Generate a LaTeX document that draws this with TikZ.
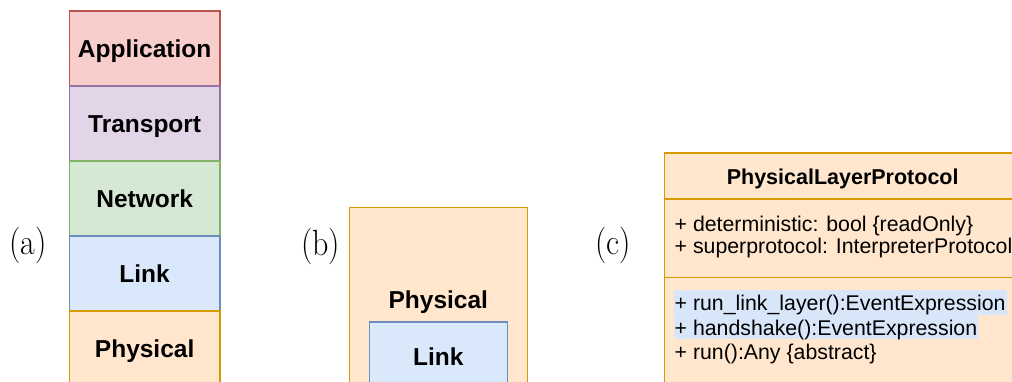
\documentclass[tikz,border=0pt]{standalone}
\usepackage{fontspec}
\newfontfamily\arialfont{Liberation Sans}
\definecolor{appfill}{HTML}{F8CECC}\definecolor{appdraw}{HTML}{B85450}
\definecolor{trafill}{HTML}{E1D5E7}\definecolor{tradraw}{HTML}{9673A6}
\definecolor{netfill}{HTML}{D5E8D4}\definecolor{netdraw}{HTML}{82B366}
\definecolor{lnkfill}{HTML}{DAE8FC}\definecolor{lnkdraw}{HTML}{6C8EBF}
\definecolor{phyfill}{HTML}{FFE6CC}\definecolor{phydraw}{HTML}{D79B00}
\definecolor{hilite}{HTML}{D8E6FA}
\newcommand{\tallcap}[1]{\scalebox{1}[1.14]{#1}}
\tikzset{
  layerbox/.style={draw, line width=1.5pt, minimum width=150.7pt, minimum height=75pt,
    inner sep=0pt, font=\arialfont\bfseries\fontsize{24.5}{28}\selectfont,
    text height=17.5pt, text depth=0pt},
  boldlbl/.style={inner sep=0pt, font=\arialfont\bfseries\fontsize{24.5}{28}\selectfont,
    text height=17.5pt, text depth=0pt},
  sublabel/.style={inner sep=0pt, font=\fontsize{32}{38}\selectfont},
  umltitle/.style={inner sep=0pt, font=\arialfont\bfseries\fontsize{21.5}{25}\selectfont,
    text height=15.4pt, text depth=0pt},
  umlrow/.style={inner sep=0pt, anchor=base west, font=\arialfont\fontsize{21.3}{25}\selectfont},
  umlhl/.style={umlrow, fill=hilite, inner xsep=1pt, inner ysep=0pt,
    text height=20.3pt, text depth=4.4pt},
  umlline/.style={phydraw, line width=1.7pt},
}
\begin{document}
\begin{tikzpicture}[x=1pt,y=-1pt]
\useasboundingbox (0,0) rectangle (1012,382);
\begin{scope}
\clip (0,0) rectangle (1012,382);

% (a) five-layer stack
\node[sublabel] (la) at (28.3,245.5) {\tallcap{(a)}};
\node[layerbox, fill=appfill, draw=appdraw] (app) at (144.65,48.5) {Application};
\node[layerbox, fill=trafill, draw=tradraw] (tra) at (144.65,123.5) {Transport};
\node[layerbox, fill=netfill, draw=netdraw] (net) at (144.65,198.5) {Network};
\node[layerbox, fill=lnkfill, draw=lnkdraw] (lnk) at (144.65,273.5) {Link};
\node[layerbox, fill=phyfill, draw=phydraw] (phy) at (144.65,348.5) {Physical};

% (b) link layer nested inside the physical layer
\node[sublabel] (lb) at (320.8,246) {\tallcap{(b)}};
\node[draw=phydraw, fill=phyfill, line width=1.5pt, inner sep=0pt,
      minimum width=178pt, minimum height=186pt] (bphy) at (438.3,300.3) {};
\node[boldlbl] (bphylbl) at (438.3,300) {Physical};
\node[layerbox, fill=lnkfill, draw=lnkdraw, minimum width=138pt, minimum height=70pt]
      (blnk) at (438.3,357) {Link};

% (c) UML class of the physical layer protocol
\node[sublabel] (lc) at (613.3,245) {\tallcap{(c)}};
\node[umlline, fill=phyfill, draw=phydraw, inner sep=0pt,
      minimum width=358.5pt, minimum height=240pt, anchor=north west] (cls) at (663.5,152.5) {};
\coordinate (d1l) at (663.5,199);   \coordinate (d1r) at (1022,199);
\coordinate (d2l) at (663.5,277.5); \coordinate (d2r) at (1022,277.5);
\draw[umlline] (d1l) -- (d1r);
\draw[umlline] (d2l) -- (d2r);
\node[umltitle] (ctitle) at (842.7,177.2) {PhysicalLayerProtocol};
\node[umlrow] (attr1) at (674.5,231.5) {+ deterministic: bool \{readOnly\}};
\node[umlrow] (attr2) at (674.5,253) {+ superprotocol: InterpreterProtocol};
\node[umlhl] (meth1) at (673.5,310.5) {+ run\_link\_layer():EventExpression};
\node[umlhl] (meth2) at (673.5,335) {+ handshake():EventExpression};
\node[umlrow] (meth3) at (674.5,359.5) {+ run():Any \{abstract\}};
\end{scope}
\end{tikzpicture}
\end{document}
